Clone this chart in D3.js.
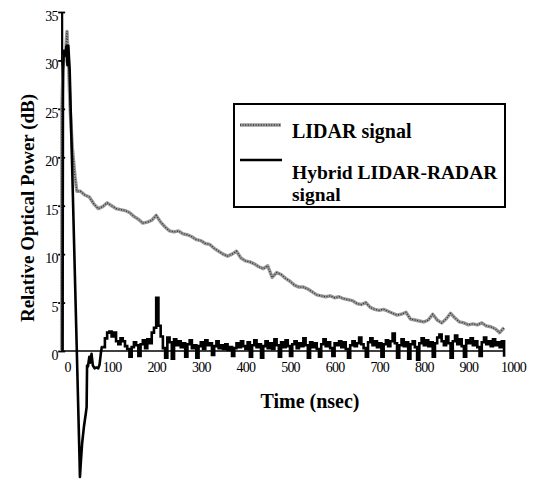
<!DOCTYPE html>
<html><head><meta charset="utf-8">
<script src="https://cdn.jsdelivr.net/npm/d3@7"></script>
<style>body{margin:0;background:#fff}svg{display:block}
text{font-family:"Liberation Serif","DejaVu Serif",serif !important;}</style>
</head><body>
<svg id="c" width="533" height="480"></svg>
<script>
// ---- data ----
const xTicks = [0,100,200,300,400,500,600,700,800,900,1000];
const yTicks = [0,5,10,15,20,25,30,35];
const seriesNames = ["LIDAR signal", "Hybrid LIDAR-RADAR signal"];

const lidarTime = [-12,-11.5,-9,-6,-3,0,4,7,12,18,22,
  30,40,50,60,70,80,90,100,110,120,130,140,150,160,170,180,190,200,210,220,
  230,240,250,260,270,280,290,300,310,320,330,340,350,360,370,380,390,400,410,420,
  430,440,450,460,470,480,490,500,510,520,530,540,550,560,570,580,590,600,610,620,
  630,640,650,660,670,680,690,700,710,720,730,740,750,760,770,780,790,800,810,820,
  830,840,850,860,870,880,890,900,910,920,930,940,950,960,970,980];
const lidarValue = [0,25,29,30.5,31,33,29,25,21,18,16.5,
  16.5,16.1,15.9,15.2,14.7,14.9,15.3,15.0,14.7,14.6,14.5,14.3,13.9,13.6,13.2,13.3,13.5,14.0,13.3,12.8,
  12.4,12.3,12.4,12.1,12.0,11.8,11.5,11.4,11.1,11.0,10.6,10.3,10.0,9.8,10.0,10.3,9.6,9.3,9.2,9.0,
  8.7,8.5,8.8,7.6,8.1,7.9,7.5,7.2,6.8,6.6,6.6,6.4,6.1,5.8,5.7,5.6,5.7,5.5,5.6,5.4,
  5.3,5.2,4.9,4.8,5.0,4.5,4.3,4.2,4.3,4.1,3.9,3.7,3.8,4.0,3.3,3.2,3.1,3.0,3.2,3.8,
  3.2,2.9,3.3,3.9,3.4,3.0,2.9,2.7,2.8,2.7,2.9,2.6,2.5,2.3,1.9,2.4];

const hybridHeadTime = [-10,-9,-7,-4,-1,1,3,6,11,22,28,29,31,34,38,42,44,45,47,50,52,55,58,62,66,70,73,76,78];
const hybridHeadValue = [0,29,31,30.5,31.5,29.5,31.5,29,20,0,-11,-13,-11.5,-9.5,-7.8,-6.5,-5.8,-1.5,-1.6,-0.6,-1.2,-0.3,-1.5,-1.8,-1.7,-1.8,-1.4,-0.2,0.4];

const hybridTailTime = d3.range(80, 985, 5);
const hybridTailValue = [
  0.4,1.3,1.9,2.0,1.5,1.9,1.0,0.7,1.3,1.0,
  0.5,0.2,-0.6,0.4,0.9,0.6,-0.5,0.7,1.1,0.3,
  1.2,0.8,1.9,2.4,5.5,2.6,1.5,0.3,-0.7,1.4,
  0.9,-0.8,1.2,0.6,1.0,0.4,0.8,-0.6,0.7,1.1,
  0.3,0.6,-0.7,0.5,0.9,0.2,1.1,0.6,0.8,-0.4,
  0.5,1.0,0.3,0.6,0.2,0.7,0.1,0.4,-0.5,0.3,
  0.8,0.4,1.0,0.5,0.2,0.9,-0.6,0.6,1.1,0.4,
  0.7,-0.7,0.5,1.0,0.3,0.8,0.2,1.2,0.6,-0.6,
  0.9,0.4,1.1,0.5,-0.5,0.7,1.0,0.3,0.8,0.5,
  1.3,0.6,-0.7,0.9,0.4,0.8,0.2,-0.6,0.7,1.2,
  0.5,0.9,0.3,-0.5,0.8,0.6,1.0,0.4,0.9,0.2,
  -0.7,0.6,1.0,0.5,0.8,1.4,0.7,0.3,-0.6,0.9,
  1.3,0.6,1.0,0.4,0.8,-0.6,0.7,1.1,0.5,1.0,
  1.8,0.8,-0.7,0.6,1.2,0.5,0.9,-0.8,0.7,1.0,
  0.4,-0.9,0.8,1.3,0.6,1.1,0.5,0.9,-0.6,0.8,
  1.4,1.7,1.0,0.6,1.5,0.8,-0.7,1.0,1.6,0.7,
  1.2,0.5,-0.6,1.1,0.8,1.3,0.6,1.0,0.4,-0.5,
  0.9,1.4,0.7,1.0,0.5,1.2,0.6,0.9,0.4,1.0,
  -0.6];

// ---- drawing ----
const svg = d3.select("#c");
const x = d3.scaleLinear().domain([0, 1000]).range([67, 513]);
const y = d3.scaleLinear().domain([0, 35]).range([351, 12]);
const axisT = -12;

// zero line (x axis)
svg.append("line")
  .attr("x1", x(axisT)).attr("x2", x(980))
  .attr("y1", y(0)).attr("y2", y(0))
  .attr("stroke", "#000").attr("stroke-width", 1.6);

// x tick labels
const gx = svg.append("g").attr("transform", `translate(0,${y(0)})`)
  .call(d3.axisBottom(x).tickValues(xTicks).tickSize(0).tickFormat(d3.format("d")));
gx.select(".domain").remove();
gx.selectAll("text").attr("y", 11)
  .style("font-size", "14px").style("letter-spacing", "-0.8px").attr("fill", "#000");

// y axis
const gy = svg.append("g").attr("transform", `translate(${x(axisT)},0)`)
  .call(d3.axisLeft(y).tickValues(yTicks).tickSize(0).tickPadding(4));
gy.select(".domain").attr("stroke", "#000").attr("stroke-width", 2.2);
gy.selectAll(".tick line").attr("x1", -3.5).attr("x2", 3.5)
  .attr("stroke", "#000").attr("stroke-width", 1.8);
gy.selectAll(".tick text").attr("y", 4)
  .style("font-size", "14px").style("letter-spacing", "-0.8px").attr("fill", "#000");

// LIDAR line
const lidarPts = lidarTime.map((t, i) => [x(t), y(lidarValue[i])]);
const lineLin = d3.line();
svg.append("path").attr("d", lineLin(lidarPts))
  .attr("fill", "none").attr("stroke", "#9a9a9a").attr("stroke-width", 3.4)
  .attr("stroke-linejoin", "round");
svg.append("path").attr("d", lineLin(lidarPts))
  .attr("fill", "none").attr("stroke", "#333").attr("stroke-width", 1.3)
  .attr("stroke-dasharray", "1 1.6");

// Hybrid line
const headPts = hybridHeadTime.map((t, i) => [x(t), y(hybridHeadValue[i])]);
headPts.push([x(hybridTailTime[0]), y(hybridTailValue[0])]);
svg.append("path").attr("d", lineLin(headPts))
  .attr("fill", "none").attr("stroke", "#000").attr("stroke-width", 2.6)
  .attr("stroke-linejoin", "round");
const tailPts = hybridTailTime.map((t, i) => [x(t), y(hybridTailValue[i])]);
svg.append("path").attr("d", d3.line().curve(d3.curveStepAfter)(tailPts))
  .attr("fill", "none").attr("stroke", "#000").attr("stroke-width", 2.6);

// axis titles
svg.append("text").attr("x", 310).attr("y", 408).attr("text-anchor", "middle")
  .attr("font-weight", "bold").style("font-size", "20px")
  .text("Time (nsec)");
svg.append("text").attr("transform", "translate(34,208) rotate(-90)")
  .attr("text-anchor", "middle")
  .attr("font-weight", "bold").style("font-size", "19px")
  .text("Relative Optical Power (dB)");

// legend
const lg = svg.append("g");
lg.append("rect").attr("x", 234).attr("y", 104).attr("width", 271).attr("height", 103)
  .attr("fill", "#fff").attr("stroke", "#000").attr("stroke-width", 2);
lg.append("line").attr("x1", 240).attr("x2", 281).attr("y1", 125).attr("y2", 125)
  .attr("stroke", "#9a9a9a").attr("stroke-width", 3.4);
lg.append("line").attr("x1", 240).attr("x2", 281).attr("y1", 125).attr("y2", 125)
  .attr("stroke", "#333").attr("stroke-width", 1.3).attr("stroke-dasharray", "1 1.6");
lg.append("line").attr("x1", 240).attr("x2", 282).attr("y1", 160).attr("y2", 160)
  .attr("stroke", "#000").attr("stroke-width", 2.4);
lg.append("text").attr("x", 292).attr("y", 138)
  .attr("font-weight", "bold").style("font-size", "20px")
  .text(seriesNames[0]);
lg.append("text").attr("x", 292).attr("y", 179)
  .attr("font-weight", "bold").style("font-size", "19.5px")
  .text("Hybrid LIDAR-RADAR");
lg.append("text").attr("x", 292).attr("y", 201)
  .attr("font-weight", "bold").style("font-size", "19.5px")
  .text("signal");
</script>
</body></html>
